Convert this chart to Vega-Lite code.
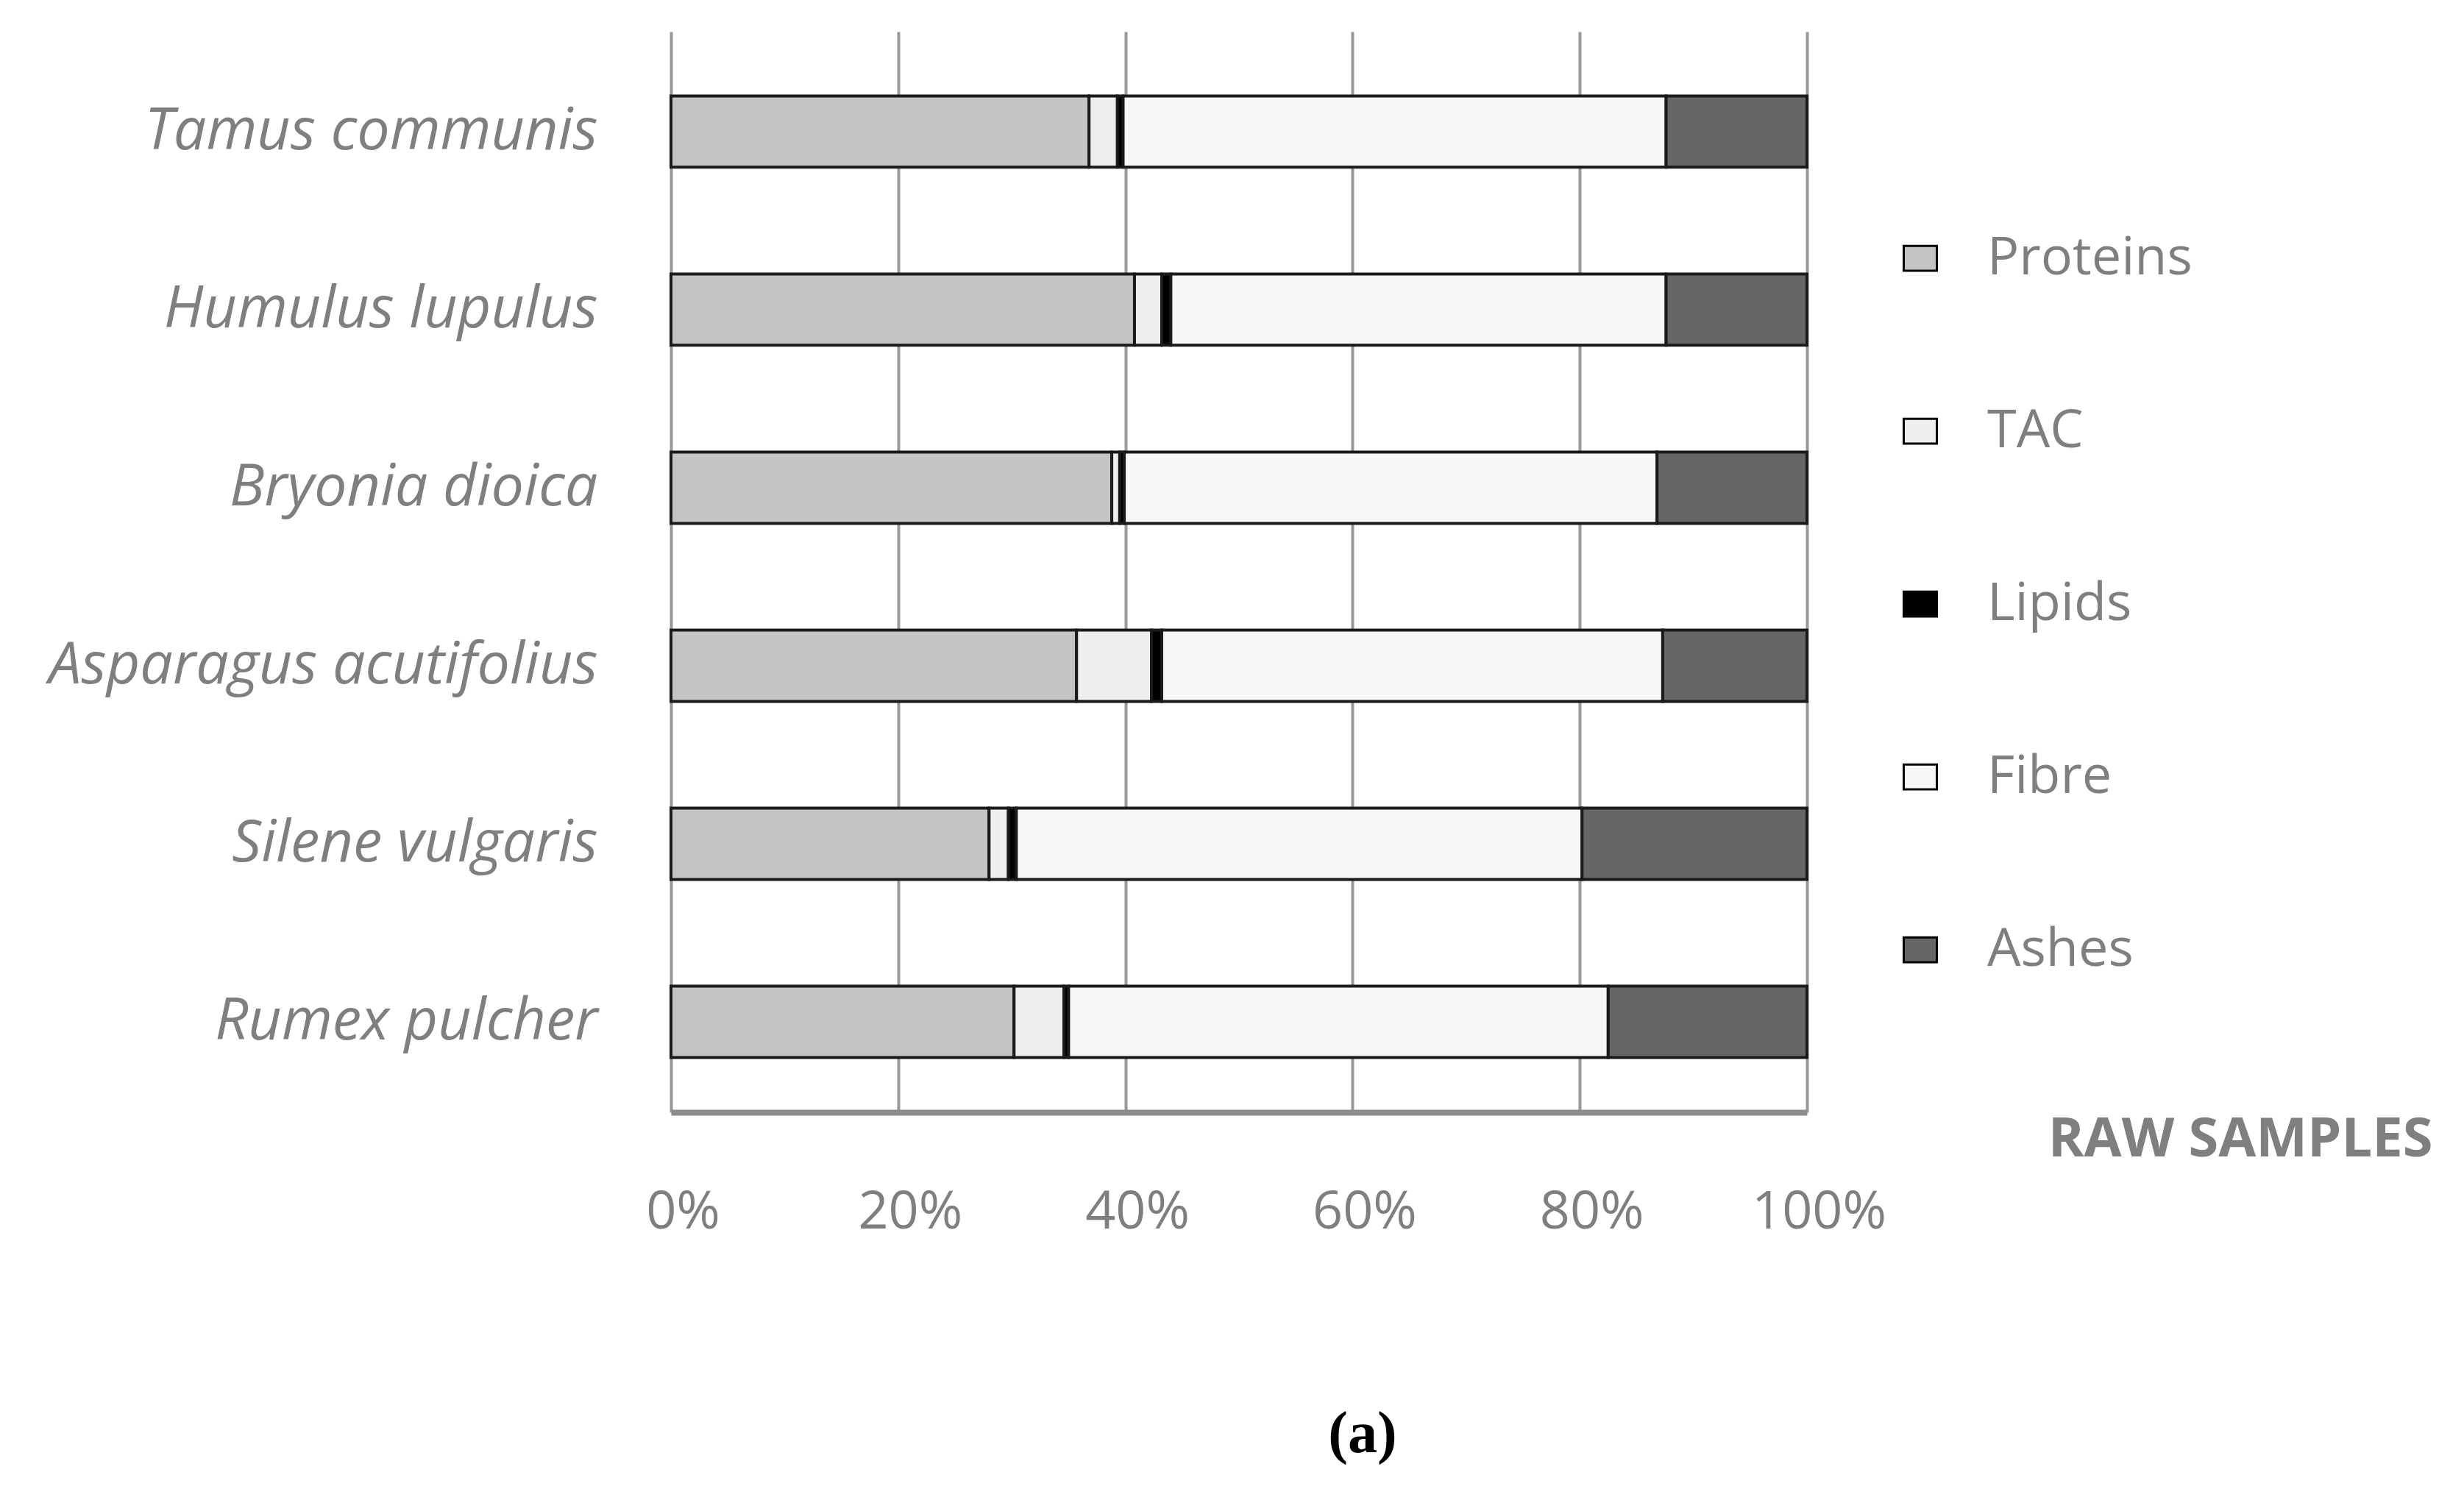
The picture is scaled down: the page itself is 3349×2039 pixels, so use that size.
{
  "$schema": "https://vega.github.io/schema/vega-lite/v6.json",
  "width": 1544,
  "height": 1469,
  "autosize": {"type": "none"},
  "padding": {"left": 912, "top": 43, "right": 893, "bottom": 527},
  "background": "white",
  "title": {
    "text": "(a)",
    "orient": "bottom",
    "anchor": "middle",
    "frame": "group",
    "font": "Liberation Serif",
    "fontWeight": "bold",
    "fontSize": 80,
    "color": "black",
    "dx": 168,
    "offset": 228
  },
  "data": {
    "values": [
      {"species": "Tamus communis", "component": "Proteins", "value": 36.8},
      {"species": "Tamus communis", "component": "TAC", "value": 2.5},
      {"species": "Tamus communis", "component": "Lipids", "value": 0.5},
      {"species": "Tamus communis", "component": "Fibre", "value": 47.8},
      {"species": "Tamus communis", "component": "Ashes", "value": 12.4},
      {"species": "Humulus lupulus", "component": "Proteins", "value": 40.8},
      {"species": "Humulus lupulus", "component": "TAC", "value": 2.4},
      {"species": "Humulus lupulus", "component": "Lipids", "value": 0.8},
      {"species": "Humulus lupulus", "component": "Fibre", "value": 43.6},
      {"species": "Humulus lupulus", "component": "Ashes", "value": 12.4},
      {"species": "Bryonia dioica", "component": "Proteins", "value": 38.8},
      {"species": "Bryonia dioica", "component": "TAC", "value": 0.7},
      {"species": "Bryonia dioica", "component": "Lipids", "value": 0.4},
      {"species": "Bryonia dioica", "component": "Fibre", "value": 46.9},
      {"species": "Bryonia dioica", "component": "Ashes", "value": 13.2},
      {"species": "Asparagus acutifolius", "component": "Proteins", "value": 35.7},
      {"species": "Asparagus acutifolius", "component": "TAC", "value": 6.6},
      {"species": "Asparagus acutifolius", "component": "Lipids", "value": 0.9},
      {"species": "Asparagus acutifolius", "component": "Fibre", "value": 44.1},
      {"species": "Asparagus acutifolius", "component": "Ashes", "value": 12.7},
      {"species": "Silene vulgaris", "component": "Proteins", "value": 28.0},
      {"species": "Silene vulgaris", "component": "TAC", "value": 1.7},
      {"species": "Silene vulgaris", "component": "Lipids", "value": 0.7},
      {"species": "Silene vulgaris", "component": "Fibre", "value": 49.8},
      {"species": "Silene vulgaris", "component": "Ashes", "value": 19.8},
      {"species": "Rumex pulcher", "component": "Proteins", "value": 30.2},
      {"species": "Rumex pulcher", "component": "TAC", "value": 4.4},
      {"species": "Rumex pulcher", "component": "Lipids", "value": 0.4},
      {"species": "Rumex pulcher", "component": "Fibre", "value": 47.5},
      {"species": "Rumex pulcher", "component": "Ashes", "value": 17.5}
    ]
  },
  "transform": [
    {"calculate": "indexof(['Proteins','TAC','Lipids','Fibre','Ashes'], datum.component)", "as": "stackOrder"}
  ],
  "mark": {"type": "bar", "stroke": "#1a1a1a", "strokeWidth": 4},
  "encoding": {
    "y": {
      "field": "species",
      "type": "nominal",
      "sort": null,
      "scale": {"paddingInner": 0.6, "paddingOuter": 0.335, "align": 0.54},
      "axis": {
        "title": null,
        "domain": false,
        "ticks": false,
        "grid": false,
        "labelFont": "Open Sans",
        "labelFontStyle": "italic",
        "labelFontSize": 79,
        "labelColor": "#7f7f7f",
        "labelPadding": 100,
        "labelLimit": 0
      }
    },
    "x": {
      "field": "value",
      "type": "quantitative",
      "stack": "normalize",
      "scale": {"domain": [0, 1]},
      "axis": {
        "title": "RAW SAMPLES",
        "titleFont": "Open Sans",
        "titleFontWeight": "bold",
        "titleFontSize": 74,
        "titleColor": "#7f7f7f",
        "titleX": 2394,
        "titleY": 37,
        "titleAlign": "right",
        "titleBaseline": "middle",
        "titleLimit": 0,
        "values": [0, 0.2, 0.4, 0.6, 0.8, 1],
        "format": ".0%",
        "labelFont": "Open Sans",
        "labelFontSize": 72,
        "labelColor": "#7f7f7f",
        "labelPadding": 100,
        "labelOffset": 16,
        "labelLimit": 0,
        "labelFlush": false,
        "ticks": false,
        "domainColor": "#8c8c8c",
        "domainWidth": 8,
        "grid": true,
        "gridColor": "#999999",
        "gridWidth": 4
      }
    },
    "color": {
      "field": "component",
      "type": "nominal",
      "sort": ["Proteins", "TAC", "Lipids", "Fibre", "Ashes"],
      "scale": {
        "domain": ["Proteins", "TAC", "Lipids", "Fibre", "Ashes"],
        "range": ["#c4c4c4", "#eeeeee", "#000000", "#f7f7f7", "#666666"]
      },
      "legend": {
        "orient": "none",
        "legendX": 1662,
        "legendY": 272,
        "title": null,
        "padding": 0,
        "labelFont": "Open Sans",
        "labelFontSize": 72,
        "labelColor": "#7f7f7f",
        "labelOffset": 55,
        "labelLimit": 0,
        "rowPadding": 163,
        "symbolType": "M-1,-0.75H1V0.75H-1Z",
        "symbolSize": 2025,
        "symbolStrokeColor": "#000000",
        "symbolStrokeWidth": 3
      }
    },
    "order": {"field": "stackOrder", "type": "quantitative"}
  },
  "config": {"view": {"stroke": null}}
}
